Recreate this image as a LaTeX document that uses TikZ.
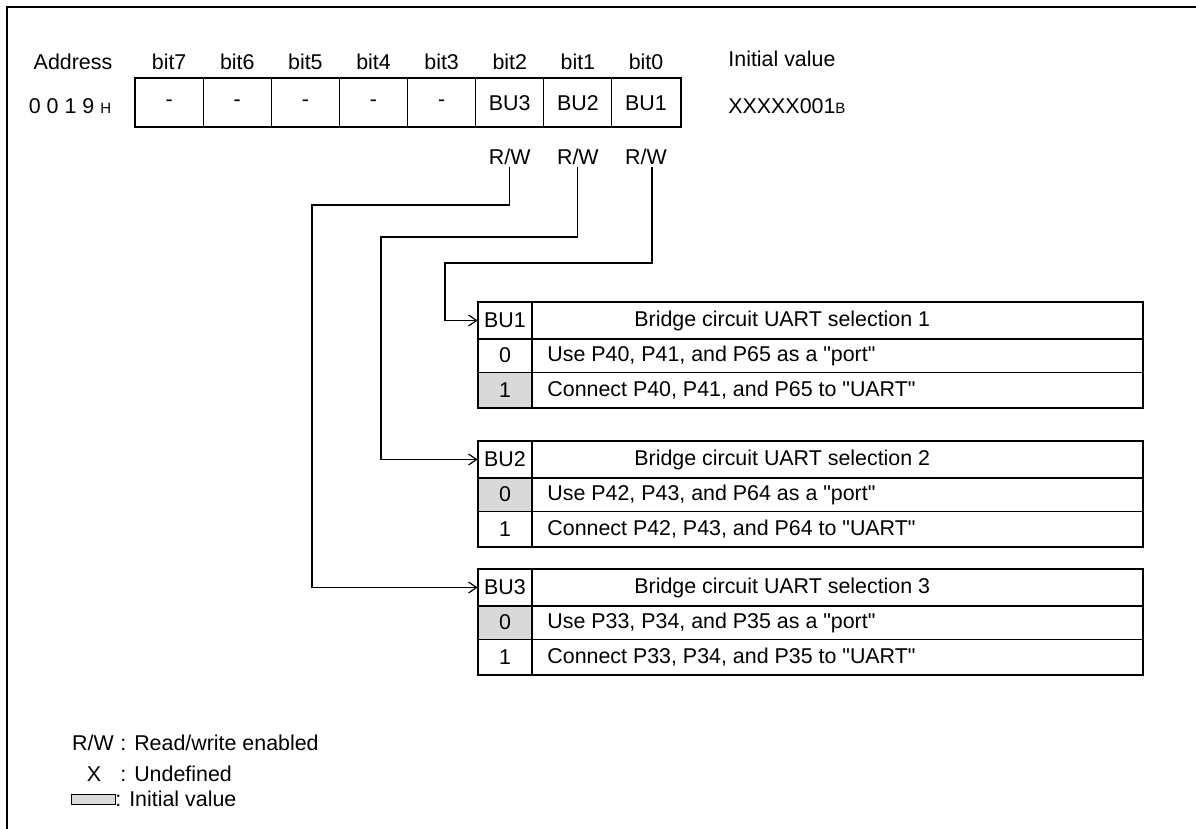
\documentclass[tikz,border=0pt]{standalone}
\usepackage{fontspec}
\setmainfont{Liberation Sans}[Ligatures=TeXOff]
\usetikzlibrary{arrows.meta}

\definecolor{initgray}{gray}{0.85}

\tikzset{
  lbl/.style={font=\fontsize{10.7}{12.8}\selectfont, inner sep=1pt},
  regcell/.style={lbl, draw, line width=0.5pt, minimum width=34.06pt, minimum height=24pt, inner sep=0pt},
  keycell/.style={lbl, minimum width=27pt, minimum height=18.5pt, inner sep=0pt},
  swatch/.style={draw, line width=0.5pt, fill=initgray, minimum width=22pt, minimum height=5pt, inner sep=0pt},
  frame/.style={line width=1pt},
  grid/.style={line width=0.5pt},
  link/.style={line width=0.6pt, -{Straight Barb[length=4pt,width=5.5pt]}}
}

\begin{document}
\begin{tikzpicture}[x=0.5pt,y=-0.5pt]
\useasboundingbox (0,0) rectangle (1196,829);

% page frame
\draw[frame] (7,829) -- (7,7) -- (1196,7);

% register
\node[lbl] (addrh) at (73,62) {Address};
\node[lbl] (addr) at (70,106) {0 0 1 9 {\fontsize{7.5}{9}\selectfont H}};
\foreach \b/\n in {7/-,6/-,5/-,4/-,3/-,2/BU3,1/BU2,0/BU1} {
  \node[lbl] (h\b) at ({646-68.125*\b},62) {bit\b};
  \node[regcell] (b\b) at ({646-68.125*\b},103) {\n};
}
\draw[frame] (b7.north west) rectangle (b0.south east);
\node[lbl, anchor=west] (initv) at (726,59) {Initial value};
\node[lbl, anchor=west] (initb) at (726,106) {XXXXX001{\fontsize{7.5}{9}\selectfont B}};
\foreach \b in {2,1,0}
  \node[lbl] (rw\b) at ({646-68.125*\b},157) {R/W};

% bit tables
\foreach \k/\t/\gt/\gb/\title/\usea/\useb in {
  1/302/70/106/{Bridge circuit UART selection 1}/{Use P40, P41, and P65 as a "port"}/{Connect P40, P41, and P65 to "UART"},
  2/441/37/70/{Bridge circuit UART selection 2}/{Use P42, P43, and P64 as a "port"}/{Connect P42, P43, and P64 to "UART"},
  3/569/37/70/{Bridge circuit UART selection 3}/{Use P33, P34, and P35 as a "port"}/{Connect P33, P34, and P35 to "UART"}} {
  \fill[initgray] (478,{\t+\gt}) rectangle (532,{\t+\gb});
  \node[keycell] (bu\k k) at (505,{\t+18.5}) {BU\k};
  \node[lbl, anchor=west] (bu\k t) at (632,{\t+18.5}) {\title};
  \node[lbl] (bu\k z) at (505,{\t+53.5}) {0};
  \node[lbl, anchor=west] (bu\k a) at (545,{\t+53.5}) {\usea};
  \node[lbl] (bu\k o) at (505,{\t+88}) {1};
  \node[lbl, anchor=west] (bu\k b) at (545,{\t+88}) {\useb};
  \draw[grid] (478,{\t+70}) -- (1143,{\t+70});
  \draw[frame] (478,{\t+37}) -- (1143,{\t+37});
  \draw[frame] (532,\t) -- (532,{\t+106});
  \draw[frame] (478,\t) rectangle (1143,{\t+106});
}

% bit to table links
\draw[link] (rw2.south) |- (312,205) |- (bu3k.west);
\draw[link] (rw1.south) |- (381,237) |- (bu2k.west);
\draw[link] ([xshift=3pt]rw0.south) |- (445,263) |- (bu1k.west);

% legend
\node[lbl] (rwkey) at (93,743) {R/W};
\node[lbl, anchor=west] (rwtxt) at (118,743) {: Read/write enabled};
\node[lbl] (xkey) at (94,774) {X};
\node[lbl, anchor=west] (xtxt) at (118,774) {: Undefined};
\node[swatch] (initkey) at (93,799) {};
\node[lbl, anchor=west] (inittxt) at (113,799) {: Initial value};
\end{tikzpicture}
\end{document}
